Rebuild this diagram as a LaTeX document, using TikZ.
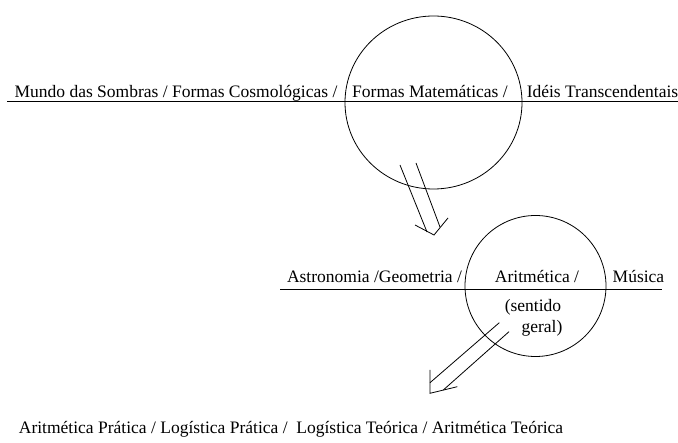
\documentclass[tikz,border=0pt]{standalone}
\usepackage{fontspec}
\setmainfont{Liberation Serif}
\newfontfamily\tnr{Liberation Serif}
\usetikzlibrary{shapes.geometric}
\begin{document}
\begin{tikzpicture}[x=1pt,y=-1pt,
  ln/.style={draw=black,line width=0.8pt},
  lbl/.style={inner sep=0pt,anchor=base,font=\tnr\fontsize{17.5}{20}\selectfont},
  ring/.style={draw=black,line width=0.8pt,ellipse,inner sep=0pt}]
\useasboundingbox[fill=white] (0,0) rectangle (678,443);
% top level
\coordinate (l1a) at (7,101.5);
\coordinate (l1b) at (678,101.5);
\draw[ln] (l1a) -- (l1b);
\node[ring,minimum width=177pt,minimum height=173pt] (c1) at (433.5,102.5) {};
\node[lbl] (t1) at (176,97.7) {Mundo das Sombras / Formas Cosmológicas /};
\node[lbl] (t2) at (430,97.7) {Formas Matemáticas /};
\node[lbl] (t3) at (602.5,97.7) {Idéis Transcendentais};
% arrow 1
\coordinate (a1s1) at (400,165);
\coordinate (a1e1) at (427,232);
\coordinate (a1s2) at (416,163);
\coordinate (a1e2) at (440,227);
\coordinate (a1tip) at (434,235);
\coordinate (a1w1) at (415,225);
\coordinate (a1w2) at (448,218);
\draw[ln] (a1s1) -- (a1e1);
\draw[ln] (a1s2) -- (a1e2);
\draw[ln] (a1w1) -- (a1tip) -- (a1w2);
% second level
\coordinate (l2a) at (280,289);
\coordinate (l2b) at (662,289);
\draw[ln] (l2a) -- (l2b);
\node[ring,minimum width=141pt,minimum height=141pt] (c2) at (535.5,286) {};
\node[lbl] (t4) at (374.5,283) {Astronomia /Geometria /};
\node[lbl] (t5) at (537,283) {Aritmética /};
\node[lbl] (t6) at (638.5,283) {Música};
\node[lbl] (t7) at (533,312) {(sentido};
\node[lbl] (t8) at (542,333) {geral)};
% arrow 2
\coordinate (a2s1) at (499.3,322.7);
\coordinate (a2e1) at (430,382.7);
\coordinate (a2s2) at (509,331.7);
\coordinate (a2e2) at (443.3,390);
\coordinate (a2tip) at (430,393.3);
\coordinate (a2w1) at (430,370);
\coordinate (a2w2) at (457.3,386.7);
\draw[ln] (a2s1) -- (a2e1);
\draw[ln] (a2s2) -- (a2e2);
\draw[ln] (a2w1) -- (a2tip) -- (a2w2);
% bottom
\node[lbl] (t9) at (291,433.3) {Aritmética Prática / Logística Prática / \ Logística Teórica / Aritmética Teórica};
\end{tikzpicture}
\end{document}
